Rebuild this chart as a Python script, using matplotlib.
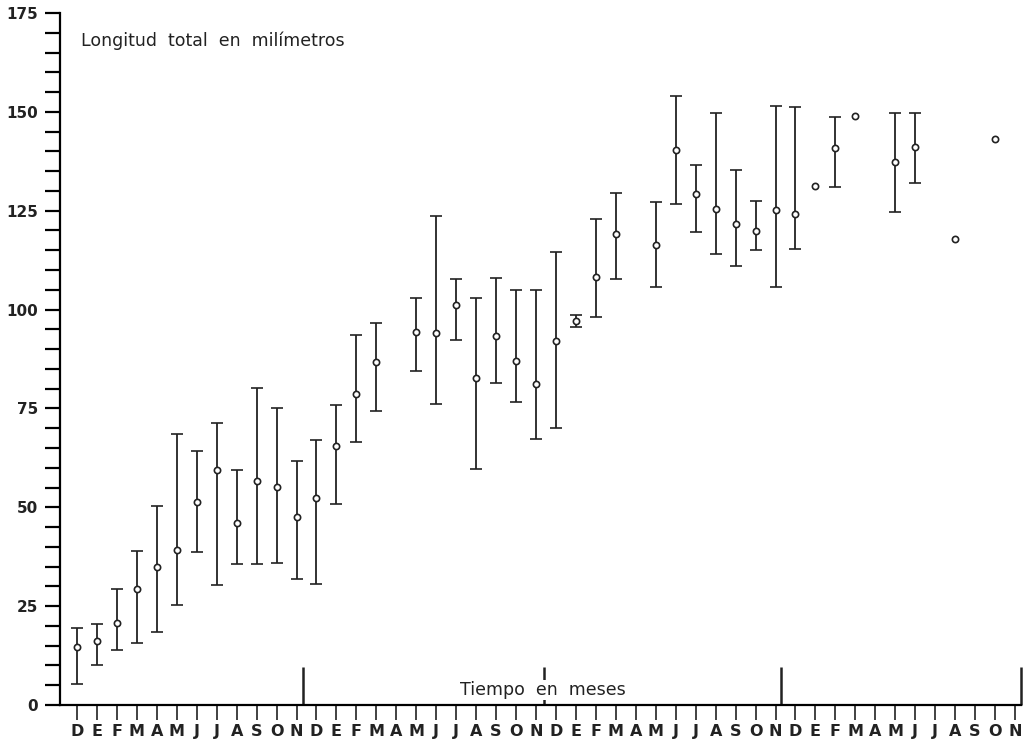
import numpy as np
import matplotlib
matplotlib.use("Agg")
import matplotlib.pyplot as plt

# ---- data -------------------------------------------------------------
month_letters = (["D"] + list("EFMAMJJASON")) * 1 + list("DEFMAMJJASON") * 3
year_marks = [11.35, 23.4, 35.3, 47.3]

# month index, mean, minimum, maximum (total length, mm)
bar_month = [0, 1, 2, 3, 4, 5, 6, 7, 8, 9, 10, 11, 12, 13, 14, 15,
             17, 18, 19, 20, 21, 22, 23, 24, 25, 26, 27,
             29, 30, 31, 32, 33, 34, 35, 36, 38, 41, 42]
bar_mean = [14.7, 16.2, 20.7, 29.3, 35.0, 39.2, 51.3, 59.4, 46.0, 56.7, 55.2, 47.6, 52.4, 65.6, 78.7, 86.7,
            94.4, 94.2, 101.2, 82.8, 93.3, 87.0, 81.1, 92.1, 97.1, 108.3, 119.1,
            116.3, 140.4, 129.2, 125.5, 121.6, 119.9, 125.2, 124.1, 140.8, 137.4, 141.0]
bar_low = [5.2, 10.1, 13.9, 15.6, 18.5, 25.3, 38.6, 30.3, 35.7, 35.6, 35.9, 31.9, 30.6, 50.8, 66.4, 74.4,
           84.5, 76.2, 92.2, 59.6, 81.4, 76.5, 67.2, 70.1, 95.7, 98.2, 107.7,
           105.6, 126.7, 119.7, 114.0, 110.9, 115.1, 105.8, 115.2, 131.0, 124.8, 132.0]
bar_high = [19.4, 20.4, 29.4, 38.9, 50.2, 68.5, 64.2, 71.2, 59.4, 80.2, 75.2, 61.7, 67.0, 75.9, 93.6, 96.7,
            102.9, 123.7, 107.7, 103.0, 108.0, 105.0, 105.0, 114.6, 98.6, 122.8, 129.6,
            127.2, 154.0, 136.6, 149.6, 135.3, 127.5, 151.5, 151.3, 148.8, 149.6, 149.6]

# single observations (no range)
single_month = [37, 39, 44, 46]
single_value = [131.3, 149.0, 117.8, 143.1]

y_major = [0, 25, 50, 75, 100, 125, 150, 175]

# ---- figure -----------------------------------------------------------
fig = plt.figure(figsize=(10.24, 7.48), dpi=100)
ax = fig.add_axes([60 / 1024, 43 / 748, (1021 - 60) / 1024, (705 - 13) / 748])
ax.set_xlim(-0.85, 47.3)
ax.set_ylim(0, 175)

for s in ["top", "right"]:
    ax.spines[s].set_visible(False)
ax.spines["left"].set_linewidth(1.6)
ax.spines["bottom"].set_linewidth(1.6)

mean = np.array(bar_mean)
low = np.array(bar_low)
high = np.array(bar_high)
ax.errorbar(bar_month, mean, yerr=[mean - low, high - mean], fmt="o",
            color="#222222", ecolor="#222222", elinewidth=1.3, capsize=4, capthick=1.8,
            markersize=4.5, markerfacecolor="white", markeredgecolor="#222222",
            markeredgewidth=1.2, zorder=3, clip_on=False)
ax.plot(single_month, single_value, "o", markersize=4.5, markerfacecolor="white",
        markeredgecolor="#222222", markeredgewidth=1.2, zorder=3)

# year separators
ax.vlines(year_marks, 0, 9.6, colors="#222222", linewidth=1.8, zorder=2, clip_on=False)

# ticks
ax.set_xticks(range(len(month_letters)))
ax.set_xticklabels(month_letters, fontsize=11.5, fontweight="semibold", color="#222222")
ax.tick_params(axis="x", direction="out", length=11, width=1.3, pad=3, color="#333333")

ax.set_yticks(y_major)
ax.set_yticklabels([str(v) for v in y_major], fontsize=11, fontweight="semibold", color="#222222")
ax.set_yticks(np.arange(0, 176, 5), minor=True)
ax.tick_params(axis="y", which="major", direction="out", length=11, width=1.6, pad=5)
ax.tick_params(axis="y", which="minor", direction="out", length=11, width=1.6)

ax.text(0.2, 168, "Longitud  total  en  milímetros", fontsize=12.5, color="#222222",
        ha="left", va="center")
ax.text(23.35, 3.8, "Tiempo  en  meses", fontsize=12.5, color="#222222", ha="center", va="center",
        zorder=4, bbox=dict(facecolor="white", edgecolor="none", pad=0.5))

fig.savefig("out.png", dpi=100, facecolor="white")
